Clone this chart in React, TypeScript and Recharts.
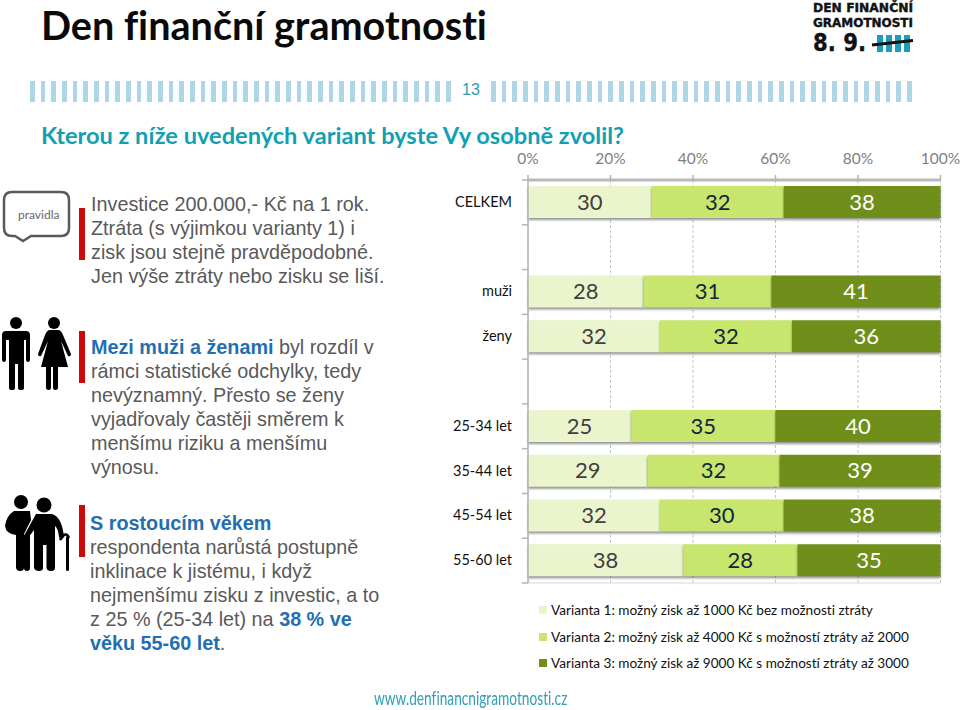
import React from 'react';
import { BarChart, Bar, XAxis, YAxis, CartesianGrid, LabelList, Legend } from 'recharts';

const categories = ['CELKEM', ' ', 'muži', 'ženy', '  ', '25-34 let', '35-44 let', '45-54 let', '55-60 let'];
const variant1: (number | null)[] = [30, null, 28, 32, null, 25, 29, 32, 38];
const variant2: (number | null)[] = [32, null, 31, 32, null, 35, 32, 30, 28];
const variant3: (number | null)[] = [38, null, 41, 36, null, 40, 39, 38, 35];
const xTicks = [0, 20, 40, 60, 80, 100];
const seriesNames = [
  'Varianta 1: možný zisk až 1000 Kč bez možnosti ztráty',
  'Varianta 2: možný zisk až 4000 Kč s možností ztráty až 2000',
  'Varianta 3: možný zisk až 9000 Kč s možností ztráty až 3000',
];
const colors = ['#eaf5cd', '#c8e56d', '#6f8f1a'];
const labelColors = ['#404040', '#12263a', '#ffffff'];

const data = categories.map((name, i) => ({ name, v1: variant1[i], v2: variant2[i], v3: variant3[i] }));

const PLOT_TOP = 180;
const PLOT_BOTTOM = 583;
const ROW = (PLOT_BOTTOM - PLOT_TOP) / categories.length;
const barShadow = { filter: 'drop-shadow(0px 2px 1px rgba(60,60,60,0.55))' };
const noLig: React.CSSProperties = { fontVariantLigatures: 'none' };

const CatTick = (props: any) => {
  const { x, y, payload, index } = props;
  const axisX = x + 16;
  return (
    <g>
      <text x={x} y={y} dy={-1} textAnchor="end" dominantBaseline="central" fontFamily="Lato" fontSize={14.5} fill="#111" style={noLig}>
        {payload.value}
      </text>
      <line x1={axisX - 6} x2={axisX} y1={y - ROW / 2} y2={y - ROW / 2} stroke="#b5b5b5" strokeWidth={1.5} />
      {index === categories.length - 1 && (
        <line x1={axisX - 6} x2={axisX} y1={y + ROW / 2} y2={y + ROW / 2} stroke="#b5b5b5" strokeWidth={1.5} />
      )}
    </g>
  );
};

const LegendRows = () => (
  <div style={{ fontFamily: 'Lato', fontSize: 13.6, color: '#111', ...noLig }}>
    {seriesNames.map((n, i) => (
      <div key={n} style={{ height: 26.5, lineHeight: '26.5px', whiteSpace: 'nowrap', position: 'relative', paddingLeft: 12 }}>
        <span style={{ position: 'absolute', left: 0, top: 9, width: 8, height: 8, background: colors[i] }} />
        {n}
      </div>
    ))}
  </div>
);

const abs = (left: number, top: number, extra: React.CSSProperties = {}): React.CSSProperties => ({
  position: 'absolute', left, top, ...extra,
});

const tallyBars = (left: number, width: number) => ({
  position: 'absolute' as const,
  left,
  top: 81,
  width,
  height: 21,
  background: 'repeating-linear-gradient(90deg,#aed6e6 0,#aed6e6 4.5px,transparent 4.5px,transparent 10.67px)',
});

const bodyText: React.CSSProperties = {
  fontFamily: '"Liberation Sans"', fontSize: 19.8, lineHeight: '24px', color: '#595959', whiteSpace: 'nowrap',
};
const strong: React.CSSProperties = { color: '#1f6fb2', fontWeight: 700 };
const redBar = (top: number) => (
  <div style={abs(78.5, top, { width: 6.5, height: 52, background: '#cc0a0a' })} />
);

const Icons = () => (
  <svg width={90} height={710} style={abs(0, 0)}>
    <path d="M12 192 H61 Q69 192 69 200 V228 Q69 236 61 236 H31 L23 241 L15 236 H12 Q4 236 4 228 V200 Q4 192 12 192 Z" fill="#fff" stroke="#595959" strokeWidth={2.5} />
    <circle cx={16} cy={323} r={6} fill="#000" />
    <path d="M6 331 H26 Q30 331 30 335 V359 Q30 362 28 362 Q26 362 26 359 V340 H24 V388 Q24 390 21 390 Q18 390 18 388 V364 H15 V388 Q15 390 12 390 Q9 390 9 388 V340 H6 V359 Q6 362 4 362 Q2 362 2 359 V335 Q2 331 6 331 Z" fill="#000" />
    <circle cx={54} cy={323} r={6} fill="#000" />
    <path d="M50 330 H58 Q61 330 63 335 L71 354 Q71 357 68 356 L61 341 L68 367 H58 V388 Q58 390 55.5 390 Q53 390 53 388 V367 H51 V388 Q51 390 48.5 390 Q46 390 46 388 V367 H41 L48 341 L41 356 Q38 357 38 354 L45 335 Q47 330 50 330 Z" fill="#000" />
    <circle cx={21} cy={502} r={7} fill="#000" />
    <circle cx={44} cy={505} r={7.5} fill="#000" />
    <path d="M14 511 H30 L31 520 L24 534 H24 V568 Q24 571 20 571 Q17 571 16 568 V535 Q6 534 5 526 Q6 516 14 511 Z" fill="#000" />
    <path d="M24 535 V568 Q24 571 27 571 Q30 571 30 568 V530 Z" fill="#000" />
    <path d="M36 514 H52 Q62 517 64 537 Q61 541 59 537 Q58 528 55 526 V568 Q55 571 51 571 Q47 571 46.500 568 V545 H43 V568 Q43 571 39 571 Q35 571 34 568 V530 L28 538 Q24 538 25 534 Z" fill="#000" />
    <rect x={66} y={536} width={3} height={35} rx={1.5} fill="#000" />
    <path d="M60 540 Q66 530 69 538" fill="none" stroke="#000" strokeWidth={2.5} />
  </svg>
);

const Logo = () => (
  <svg width={130} height={60} style={abs(800, 0)}>
    <g fontFamily="DejaVu Sans" fontWeight={700} fill="#111" stroke="#111" strokeWidth={0.4}>
      <text x={13} y={12} fontSize={11.5} textLength={100} lengthAdjust="spacingAndGlyphs">DEN FINANČNÍ</text>
      <text x={13} y={27} fontSize={11.5} textLength={100} lengthAdjust="spacingAndGlyphs">GRAMOTNOSTI</text>
      <text x={13} y={51} fontSize={24} textLength={53} lengthAdjust="spacingAndGlyphs">8. 9.</text>
    </g>
    {[77, 86, 95, 104].map((x) => (
      <rect key={x} x={x} y={35} width={6} height={17} fill="#1b9dbd" />
    ))}
    <path d="M72 45 L113 40.500" stroke="#111" strokeWidth={3} />
  </svg>
);

export default function App() {
  return (
    <div style={{ position: 'absolute', left: 0, top: 0, width: 960, height: 710, background: '#fff', overflow: 'hidden' }}>
      <div style={abs(41, 0, { fontFamily: 'Lato', fontWeight: 700, fontSize: 39.6, lineHeight: '50px', color: '#0a0a0a', whiteSpace: 'nowrap', ...noLig })}>
        Den finanční gramotnosti
      </div>
      <Logo />
      <div style={tallyBars(30, 424)} />
      <div style={abs(462, 80, { fontFamily: '"Liberation Sans"', fontSize: 16, lineHeight: '20px', color: '#2a9db0' })}>13</div>
      <div style={tallyBars(491, 423)} />
      <div style={abs(41, 119, { fontFamily: 'Lato', fontWeight: 700, fontSize: 23.6, lineHeight: '32px', color: '#129fb3', whiteSpace: 'nowrap', ...noLig })}>
        Kterou z níže uvedených variant byste Vy osobně zvolil?
      </div>

      <Icons />
      <div style={abs(18, 207, { fontFamily: 'Lato', fontSize: 12, lineHeight: '16px', color: '#666' })}>pravidla</div>
      {redBar(208)}
      {redBar(331)}
      {redBar(505)}
      <div style={{ ...bodyText, ...abs(91, 192) }}>
        Investice 200.000,- Kč na 1 rok.<br />Ztráta (s výjimkou varianty 1) i<br />zisk jsou stejně pravděpodobné.<br />Jen výše ztráty nebo zisku se liší.
      </div>
      <div style={{ ...bodyText, ...abs(91, 335) }}>
        <span style={strong}>Mezi muži a ženami</span> byl rozdíl v<br />rámci statistické odchylky, tedy<br />nevýznamný. Přesto se ženy<br />vyjadřovaly častěji směrem k<br />menšímu riziku a menšímu<br />výnosu.
      </div>
      <div style={{ ...bodyText, ...abs(90, 511) }}>
        <span style={strong}>S rostoucím věkem</span><br />respondenta narůstá postupně<br />inklinace k jistému, i když<br />nejmenšímu zisku z investic, a to<br />z 25 % (25-34 let) na <span style={strong}>38 % ve</span><br /><span style={strong}>věku 55-60 let</span>.
      </div>
      <div style={abs(374, 686, { fontFamily: 'Lato', fontSize: 18.5, lineHeight: '24px', color: '#2e9fb5', whiteSpace: 'nowrap', transform: 'scaleX(0.74)', transformOrigin: 'left center', ...noLig })}>
        www.denfinancnigramotnosti.cz
      </div>

      <div style={abs(0, 0)}>
        <BarChart
          width={960}
          height={710}
          data={data}
          layout="vertical"
          barSize={32}
          barGap={0}
          stackOffset="expand"
          margin={{ top: 0, right: 19.5, bottom: 0, left: 0 }}
          style={{ background: 'transparent' }}
        >
          <CartesianGrid horizontal={false} vertical stroke="#c4c4c4" strokeDasharray="3 2" />
          <XAxis
            type="number"
            orientation="top"
            domain={[0, 1]}
            ticks={xTicks.map((t) => t / 100)}
            height={PLOT_TOP}
            tickFormatter={(v: number) => `${Math.round(v * 100)}%`}
            tick={{ fontFamily: 'Lato', fontSize: 15.5, fill: '#808080' }}
            tickLine={{ stroke: '#b5b5b5', strokeWidth: 1.5 }}
            tickSize={5}
            tickMargin={11}
            axisLine={{ stroke: '#b9b9b9', strokeWidth: 3 }}
            interval={0}
          />
          <XAxis xAxisId="bottom" type="number" orientation="bottom" domain={[0, 1]} height={710 - PLOT_BOTTOM} tick={false} tickLine={false} axisLine={{ stroke: '#d9d9d9', strokeWidth: 1 }} />
          <YAxis
            type="category"
            dataKey="name"
            width={528}
            tick={<CatTick />}
            tickLine={false}
            tickSize={0}
            tickMargin={16}
            axisLine={{ stroke: '#b5b5b5', strokeWidth: 1.5 }}
            interval={0}
          />
          <Legend
            layout="horizontal"
            align="center"
            verticalAlign="middle"
            content={<LegendRows />}
            wrapperStyle={{ left: 539, top: 597, bottom: 'auto', width: 410 }}
          />
          {(['v1', 'v2', 'v3'] as const).map((k, i) => (
            <Bar
              key={k}
              dataKey={k}
              name={seriesNames[i]}
              stackId="a"
              fill={colors[i]}
              isAnimationActive={false}
              style={barShadow}
            >
              <LabelList dataKey={k} position="center" fill={labelColors[i]} fontFamily="Lato" fontSize={22} />
            </Bar>
          ))}
        </BarChart>
      </div>
    </div>
  );
}
